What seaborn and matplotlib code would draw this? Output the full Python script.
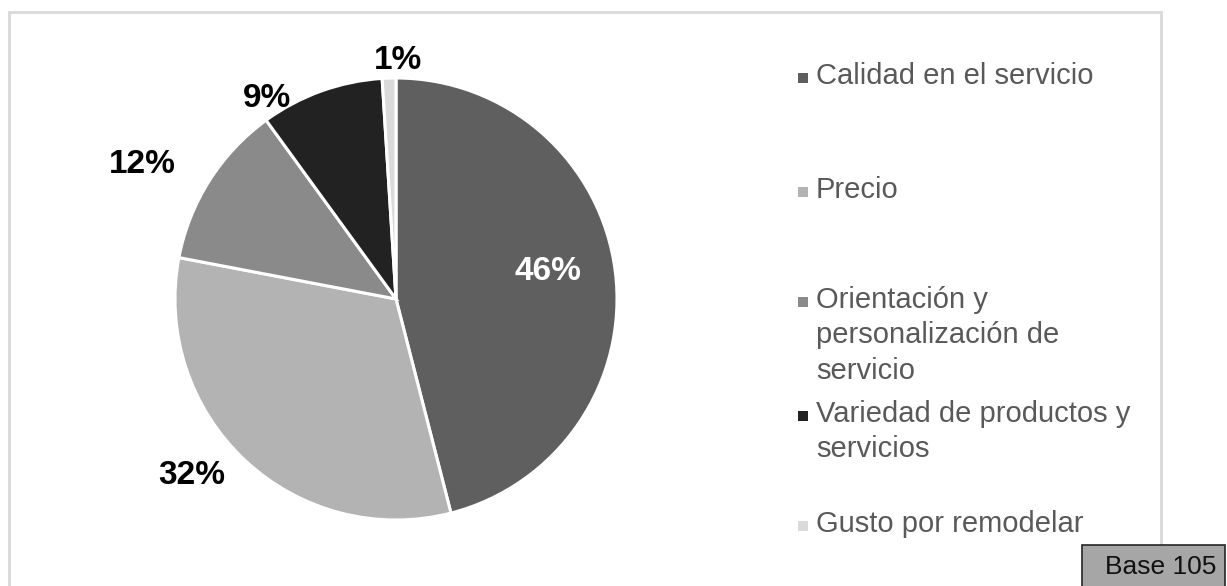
import matplotlib
matplotlib.use("Agg")
import matplotlib.pyplot as plt
from matplotlib.patches import Rectangle
import numpy as np
import seaborn as sns

sns.set_theme(style="white")
plt.rcParams["font.family"] = ["Liberation Sans", "DejaVu Sans"]

# Survey data
categories = [
    "Calidad en el servicio",
    "Precio",
    "Orientación y\npersonalización de\nservicio",
    "Variedad de productos y\nservicios",
    "Gusto por remodelar",
]
shares = [46, 32, 12, 9, 1]
colors = ["#5f5f5f", "#b3b3b3", "#8a8a8a", "#222222", "#dadada"]
base_label = "Base 105"

W, H = 1227, 586
fig = plt.figure(figsize=(W / 100, H / 100), dpi=100)
fig.patch.set_facecolor("white")

# Outer chart frame
fig.add_artist(Rectangle((9 / W, -0.01), (1161 - 9) / W, 1 - 12 / H + 0.01,
                         transform=fig.transFigure, fill=False,
                         edgecolor="#d9d9d9", linewidth=2))

# Pie axes: centre (396, 299) px, radius 221 px
cx, cy, r = 396, 299, 221
ax = fig.add_axes([(cx - r) / W, 1 - (cy + r) / H, 2 * r / W, 2 * r / H])

wedges, _ = ax.pie(shares, colors=colors, startangle=90, counterclock=False,
                   radius=1, wedgeprops=dict(edgecolor="white", linewidth=2.2))
ax.set_xlim(-1, 1)
ax.set_ylim(-1, 1)
ax.set_aspect("equal")
ax.axis("off")

# Percentage labels: radius and angular nudge per slice
label_r = [0.70, 1.22, 1.30, 1.08, 1.08]
label_nudge = [3, -6, 4.5, 13, -2.4]
label_color = ["white", "black", "black", "black", "black"]
for w, v, lr, dn, c in zip(wedges, shares, label_r, label_nudge, label_color):
    mid = np.deg2rad((w.theta1 + w.theta2) / 2 + dn)
    ax.text(lr * np.cos(mid), lr * np.sin(mid), f"{v}%", ha="center", va="center",
            fontsize=24, fontweight="bold", color=c, clip_on=False)

# Legend
entry_tops = [62, 176, 286, 400, 510]
for lab, col, top in zip(categories, colors, entry_tops):
    fig.add_artist(Rectangle((798 / W, 1 - (top + 21) / H), 10 / W, 10 / H,
                             transform=fig.transFigure, facecolor=col,
                             edgecolor="none"))
    fig.text(816 / W, 1 - top / H, lab, ha="left", va="top", fontsize=21,
             color="#595959", linespacing=1.33)

# Sample size box
fig.add_artist(Rectangle((1082 / W, -0.01), (1225 - 1082) / W, 1 - 545 / H + 0.01,
                         transform=fig.transFigure, facecolor="#a6a6a6",
                         edgecolor="#262626", linewidth=1.2))
fig.text(1161 / W, 1 - 567 / H, base_label, ha="center", va="center",
         fontsize=19, color="#111111")

fig.savefig("out.png", dpi=100, facecolor="white")
